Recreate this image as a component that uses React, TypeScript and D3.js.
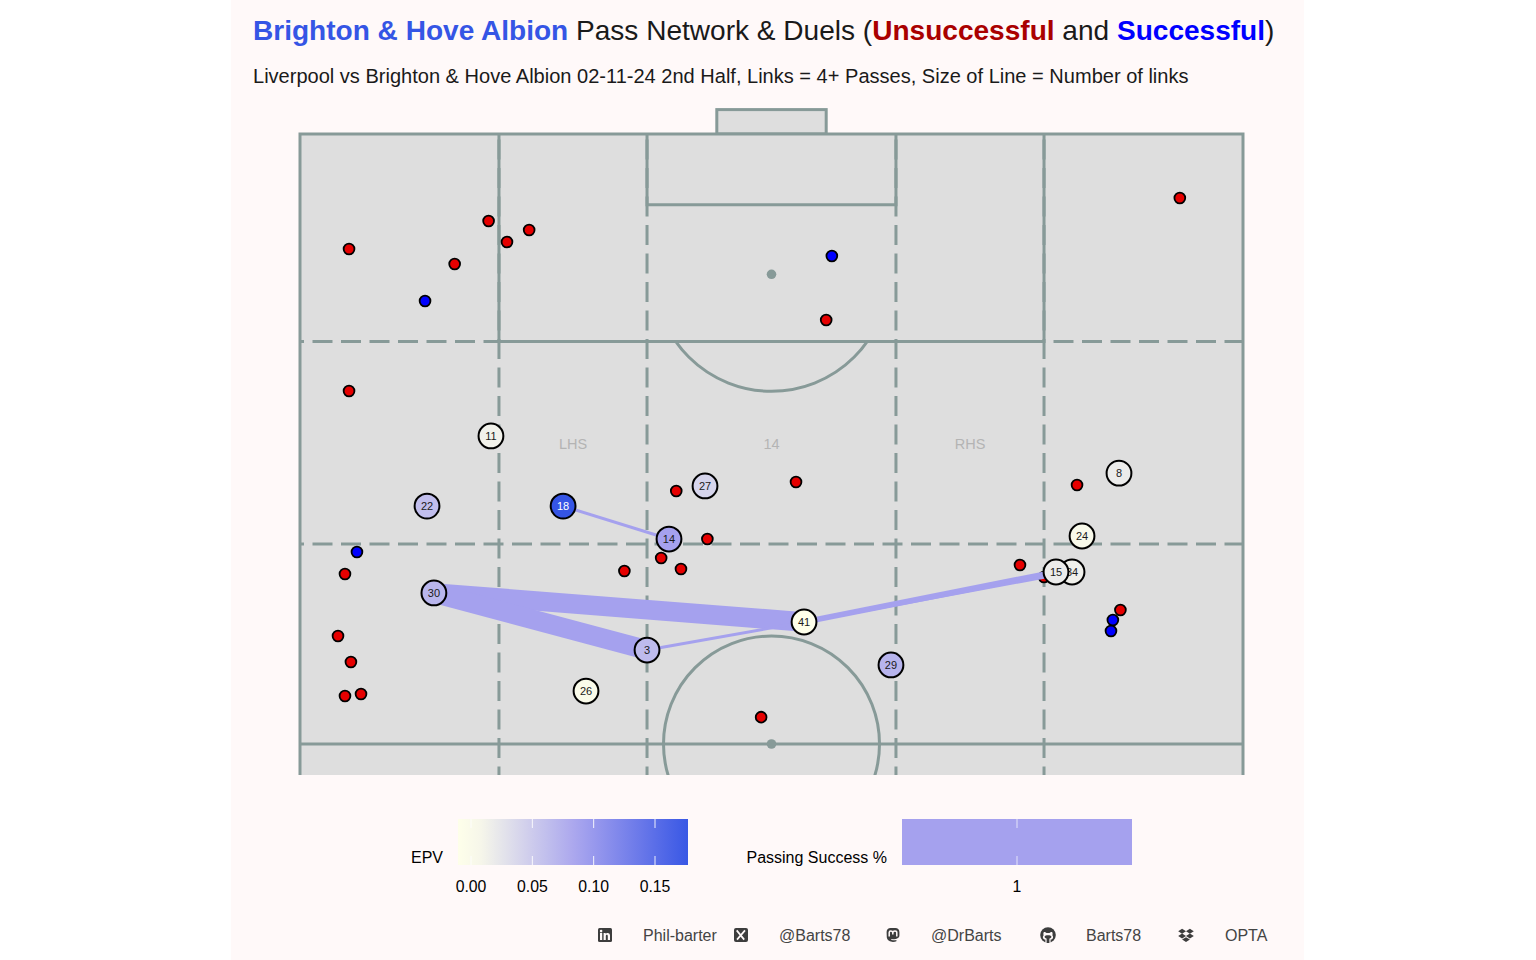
import React from "react";
import * as d3 from "d3";

// player average positions (opta coords, pitch is shown rotated)
const playerNumbers = [11, 22, 18, 27, 14, 8, 24, 34, 15, 30, 41, 3, 26, 29];
const playerX = [20.25, 13.47, 27.9, 42.95, 39.13, 86.85, 82.93, 81.87, 80.17, 14.2, 53.45, 36.8, 30.33, 62.67];
const playerY = [75.25, 69.5, 69.5, 71.15, 66.8, 72.2, 67.05, 64.1, 64.1, 62.38, 60.0, 57.7, 54.34, 56.48];
const playerEpv = [0.012, 0.062, 0.18, 0.04, 0.09, 0.018, 0.006, 0.014, 0.018, 0.07, 0.0, 0.065, 0.004, 0.072];

// pass links between players
const linkFrom = [18, 30, 30, 3, 41, 41];
const linkTo = [14, 41, 3, 41, 15, 34];
const linkCount = [4, 10, 10, 4, 5, 4];

const lostX = [93.3, 20.0, 21.95, 24.3, 5.2, 16.4, 55.8, 5.2, 82.4, 52.6, 39.9, 43.2, 38.3, 40.4, 34.4, 76.35, 78.9, 4.77, 87.0, 4.03, 5.4, 4.77, 6.47, 48.9];
const lostY = [94.75, 92.87, 91.15, 92.13, 90.57, 89.34, 84.75, 78.93, 71.23, 71.48, 70.74, 66.8, 65.25, 64.34, 64.18, 64.67, 63.69, 63.93, 60.98, 58.85, 56.72, 53.93, 54.1, 52.2];
const wonX = [56.4, 13.26, 6.04, 86.2, 86.0];
const wonY = [90.0, 86.31, 65.74, 60.16, 59.26];

const epvTicks = [0, 0.05, 0.1, 0.15];
const zoneLabels = ["LHS", "14", "RHS"];
const zoneCentres = [28.95, 50, 71.05];
const footerLabels = ["Phil-barter", "@Barts78", "@DrBarts", "Barts78", "OPTA"];
const footerIconX = [605, 741, 893, 1048, 1186];
const footerTextX = [643, 779, 931, 1086, 1225];

const x = d3.scaleLinear().domain([0, 100]).range([300, 1243]);
const y = d3.scaleLinear().domain([100, 50]).range([134, 744]);
const widthScale = d3.scaleLinear().domain([4, 10]).range([3, 19.6]);
const epvColor = d3.scaleLinear<string>().domain([0, 0.09, 0.18]).range(["#feffea", "#a5a1ee", "#3555e5"]);
const epvBar = d3.scaleLinear().domain([0, 0.15]).range([471, 655]);

const LINE = "#879a98";
const LINK = "#a5a1ee";
const FONT = "'Liberation Sans', Arial, sans-serif";
const BAR_TOP = 819;
const BAR_H = 46;

const bottom = 775;
const verticals = [21.1, 36.8, 63.2, 78.9];
const horizontals = [83, 66.4];
const dash = "20 8.5";

function Pitch() {
  const line = { stroke: LINE, strokeWidth: 3, fill: "none" };
  return (
    <g>
      <rect x={x(44.2)} y={y(102)} width={x(55.8) - x(44.2)} height={y(100) - y(102)} {...line} style={{ fill: "#dedede" }} />
      <rect x={x(0)} y={y(100)} width={x(100) - x(0)} height={bottom - y(100)} fill="#dedede" />
      {verticals.map((v) => (
        <line key={v} x1={x(v)} x2={x(v)} y1={y(100)} y2={bottom} {...line} strokeDasharray={dash} strokeDashoffset={23} />
      ))}
      {horizontals.map((h) => (
        <line key={h} x1={x(0)} x2={x(100)} y1={y(h)} y2={y(h)} {...line} strokeDasharray={dash} strokeDashoffset={16} />
      ))}
      <path d={`M${x(21.1)},${y(100)}V${y(83)}H${x(78.9)}V${y(100)}`} {...line} />
      <path d={`M${x(36.8)},${y(100)}V${y(94.2)}H${x(63.2)}V${y(100)}`} {...line} />
      <line x1={x(0)} x2={x(100)} y1={y(50)} y2={y(50)} {...line} />
      <g clipPath="url(#pitch-clip)">
        <circle cx={x(50)} cy={y(50)} r={108} {...line} />
      </g>
      <g clipPath="url(#d-clip)">
        <circle cx={x(50)} cy={y(88.5)} r={117} {...line} />
      </g>
      <path d={`M${x(0)},${bottom}V${y(100)}H${x(100)}V${bottom}`} {...line} />
      <circle cx={x(50)} cy={y(88.5)} r={4.8} fill={LINE} />
      <circle cx={x(50)} cy={y(50)} r={4.8} fill={LINE} />
    </g>
  );
}

function Icon({ i, cx }: { i: number; cx: number }) {
  const c = "#3d3d3d";
  const t = `translate(${cx},935)`;
  if (i === 0)
    return (
      <g transform={t}>
        <rect x={-7} y={-7} width={14} height={14} rx={1.5} fill={c} />
        <rect x={-5} y={-2} width={2.2} height={7} fill="#fff9f9" />
        <circle cx={-3.9} cy={-3.9} r={1.3} fill="#fff9f9" />
        <path d="M-1.4,5V-2H0.7V-1C1.4,-2.4 5,-2.8 5,0.6V5H2.8V1.2C2.8,-0.6 0.8,-0.6 0.8,1.2V5Z" fill="#fff9f9" />
      </g>
    );
  if (i === 1)
    return (
      <g transform={t}>
        <rect x={-7} y={-7} width={14} height={14} rx={2} fill={c} />
        <path d="M-4.3,-4.6L3.2,4.6M4,-4.6L-4,4.6" stroke="#fff9f9" strokeWidth={1.7} />
      </g>
    );
  if (i === 2)
    return (
      <g transform={t}>
        <path d="M-6.4,-3C-6.4,-5.8 -4.6,-7 -2.5,-7H2.5C4.6,-7 6.4,-5.8 6.4,-3V0.6C6.4,2.8 4.6,3.6 2.8,3.9C1,4.2 -1,4.2 -2.2,4C-1.6,5.4 1,5.4 3.4,5V6.3C0.6,7.4 -5.4,7.4 -6.2,2.6Z" fill={c} />
        <path d="M-3.8,1.6V-2.4C-3.8,-4.6 -0.6,-4.6 -0.2,-2.4V-0.6M-0.2,-0.6V-2.4C0.2,-4.6 3.8,-4.6 3.8,-2.4V1.6" fill="none" stroke="#fff9f9" strokeWidth={1.5} />
      </g>
    );
  if (i === 3)
    return (
      <g transform={t}>
        <circle r={7.8} fill={c} />
        <path d="M-2.6,8V4.6C-5.4,4.4 -5.6,1.8 -4.4,0.2C-4.8,-1 -4.6,-2.4 -4,-3C-3,-3 -2,-2.4 -1.4,-1.9C-0.4,-2.2 0.6,-2.2 1.4,-1.9C2,-2.4 3,-3 4,-3C4.6,-2.4 4.8,-1 4.4,0.2C5.6,1.8 5.4,4.4 2.6,4.6V8Z" fill="#fff9f9" />
        <path d="M-3.4,1.4C-3,-0.2 3,-0.2 3.4,1.4C3.6,2.8 1.8,3.4 1.4,3.4V8H-1.4V3.4C-1.8,3.4 -3.6,2.8 -3.4,1.4Z" fill={c} />
      </g>
    );
  return (
    <g transform={t} fill={c}>
      {[[-3.9, -3.8], [3.9, -3.8], [-3.9, 1], [3.9, 1]].map(([a, b], k) => (
        <path key={k} d={`M${a - 3.9},${b}L${a},${b - 2.5}L${a + 3.9},${b}L${a},${b + 2.5}Z`} />
      ))}
      <path d="M-3.9,4.4L0,2.2L3.9,4.4L0,7Z" />
    </g>
  );
}

export default function App() {
  const nodeX = (n: number) => x(playerX[playerNumbers.indexOf(n)]);
  const nodeY = (n: number) => y(playerY[playerNumbers.indexOf(n)]);
  const barStart = 458;
  const barEnd = 688;
  const gradStops = d3.range(0, 1.001, 0.1);

  return (
    <div style={{ position: "absolute", left: 0, top: 0, width: 1536, height: 960, background: "#fff" }}>
      <svg width={1536} height={960} style={{ display: "block", fontFamily: FONT }}>
        <defs>
          <clipPath id="pitch-clip">
            <rect x={298} y={100} width={947} height={bottom - 100} />
          </clipPath>
          <clipPath id="d-clip">
            <rect x={600} y={y(83)} width={340} height={100} />
          </clipPath>
          <linearGradient id="epv-grad">
            {gradStops.map((t) => (
              <stop key={t} offset={t} stopColor={epvColor(Math.max(0, epvBar.invert(barStart + t * (barEnd - barStart))))} />
            ))}
          </linearGradient>
        </defs>

        <rect x={231} y={0} width={1073} height={960} fill="#fff9f9" />

        <text x={253} y={40} fontSize={28.05} fill="#1a1a1a">
          <tspan fontWeight="bold" fill="#3555e5">Brighton &amp; Hove Albion</tspan>
          <tspan> Pass Network &amp; Duels (</tspan>
          <tspan fontWeight="bold" fill="#aa0000">Unsuccessful</tspan>
          <tspan> and </tspan>
          <tspan fontWeight="bold" fill="#0000ff">Successful</tspan>
          <tspan>)</tspan>
        </text>
        <text x={253} y={83} fontSize={20.05} fill="#1a1a1a">
          Liverpool vs Brighton &amp; Hove Albion 02-11-24 2nd Half, Links = 4+ Passes, Size of Line = Number of links
        </text>

        <Pitch />

        {zoneLabels.map((d, i) => (
          <text key={d} x={x(zoneCentres[i])} y={449} textAnchor="middle" fontSize={14.5} fill="#b4b4b4">{d}</text>
        ))}

        {lostX.map((d, i) => (
          <circle key={i} cx={x(d)} cy={y(lostY[i])} r={5.4} fill="#e60000" stroke="#000" strokeWidth={1.8} />
        ))}
        {wonX.map((d, i) => (
          <circle key={i} cx={x(d)} cy={y(wonY[i])} r={5.4} fill="#0000ff" stroke="#000" strokeWidth={1.8} />
        ))}

        {linkFrom.map((d, i) => (
          <line key={i} x1={nodeX(d)} y1={nodeY(d)} x2={nodeX(linkTo[i])} y2={nodeY(linkTo[i])} stroke={LINK} strokeWidth={widthScale(linkCount[i])} />
        ))}

        {playerNumbers.map((n, i) => (
          <g key={n} transform={`translate(${x(playerX[i])},${y(playerY[i])})`}>
            <circle r={12.4} fill={epvColor(playerEpv[i])} stroke="#000" strokeWidth={2} />
            <text y={3.8} textAnchor="middle" fontSize={11} fill={n === 18 ? "#fff" : "#1a1a1a"}>{n}</text>
          </g>
        ))}

        <text x={443} y={863} textAnchor="end" fontSize={16} fill="#000">EPV</text>
        <rect x={barStart} y={BAR_TOP} width={barEnd - barStart} height={BAR_H} fill="url(#epv-grad)" />
        {epvTicks.map((t) => (
          <g key={t}>
            <line x1={epvBar(t)} x2={epvBar(t)} y1={BAR_TOP} y2={BAR_TOP + 9} stroke="#fff" strokeWidth={1} opacity={0.9} />
            <line x1={epvBar(t)} x2={epvBar(t)} y1={BAR_TOP + BAR_H - 9} y2={BAR_TOP + BAR_H} stroke="#fff" strokeWidth={1} opacity={0.9} />
            <text x={epvBar(t)} y={892} textAnchor="middle" fontSize={15.8} fill="#000">{d3.format(".2f")(t)}</text>
          </g>
        ))}

        <text x={887} y={863} textAnchor="end" fontSize={16} fill="#000">Passing Success %</text>
        <rect x={902} y={BAR_TOP} width={230} height={BAR_H} fill={LINK} />
        <line x1={1017} x2={1017} y1={BAR_TOP} y2={BAR_TOP + 9} stroke="#fff" opacity={0.7} />
        <line x1={1017} x2={1017} y1={BAR_TOP + BAR_H - 9} y2={BAR_TOP + BAR_H} stroke="#fff" opacity={0.7} />
        <text x={1017} y={892} textAnchor="middle" fontSize={15.8} fill="#000">1</text>

        {footerLabels.map((d, i) => (
          <g key={d}>
            <Icon i={i} cx={footerIconX[i]} />
            <text x={footerTextX[i]} y={941} fontSize={16} fill="#444">{d}</text>
          </g>
        ))}
      </svg>
    </div>
  );
}
